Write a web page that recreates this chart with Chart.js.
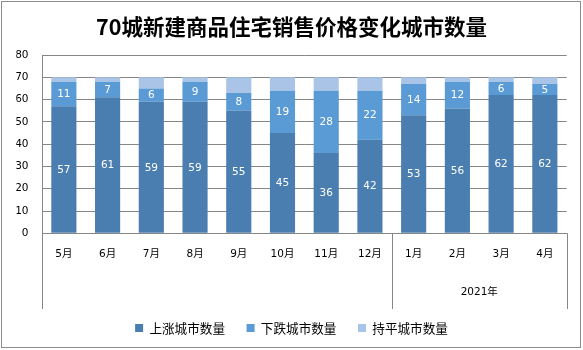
<!DOCTYPE html>
<html>
<head>
<meta charset="utf-8">
<title>70城新建商品住宅销售价格变化城市数量</title>
<script src="https://cdn.jsdelivr.net/npm/chart.js@4.4.1/dist/chart.umd.min.js"></script>
<style>
  html, body { margin: 0; padding: 0; background: #ffffff; }
  #wrap { width: 583px; height: 350px; }
</style>
</head>
<body>
<div id="wrap"><canvas id="c" width="583" height="350"></canvas></div>
<script>
// Months on the category axis
const months = ['5月', '6月', '7月', '8月', '9月', '10月', '11月', '12月', '1月', '2月', '3月', '4月'];
// Second-level grouping of the category axis (start index of each group)
const groupLabels = ['', '2021年'];
const groupStarts = [0, 8];

// Number of cities per month
const riseCounts = [57, 61, 59, 59, 55, 45, 36, 42, 53, 56, 62, 62];
const fallCounts = [11, 7, 6, 9, 8, 19, 28, 22, 14, 12, 6, 5];
const flatCounts = [2, 2, 5, 2, 7, 6, 6, 6, 3, 2, 2, 3];

const seriesNames = ['上涨城市数量', '下跌城市数量', '持平城市数量'];

const yTicks = [0, 10, 20, 30, 40, 50, 60, 70, 80];

const AXIS_GRAY = '#868686';
const AXIS_FONT = "'DejaVu Sans', 'Noto Sans CJK SC', sans-serif";
const CJK_FONT = "'Noto Sans CJK SC', 'DejaVu Sans', sans-serif";
const SIDE_PAD = 16.3;

// Value labels centred in the rise / fall segments
const segmentLabels = {
  id: 'segmentLabels',
  afterDatasetsDraw(chart) {
    const ctx = chart.ctx;
    ctx.save();
    ctx.fillStyle = '#ffffff';
    ctx.font = "10.5px " + AXIS_FONT;
    ctx.textAlign = 'center';
    ctx.textBaseline = 'middle';
    chart.data.datasets.forEach((ds, di) => {
      if (!ds.showValues) return;
      const meta = chart.getDatasetMeta(di);
      meta.data.forEach((bar, i) => {
        const v = ds.data[i];
        ctx.fillText(String(v), bar.x, (bar.y + bar.base) / 2 + 0.5);
      });
    });
    ctx.restore();
  }
};

// Group separators below the axis, the year label and the outer frame
const groupAxis = {
  id: 'groupAxis',
  afterDraw(chart) {
    const ctx = chart.ctx;
    const area = chart.chartArea;
    const xs = chart.scales.x;
    const half = (xs.getPixelForValue(1) - xs.getPixelForValue(0)) / 2;
    const lineBottom = 309;
    ctx.save();
    ctx.strokeStyle = AXIS_GRAY;
    ctx.lineWidth = 1;
    const edges = [area.left];
    groupStarts.forEach((s, gi) => {
      if (gi > 0) edges.push(xs.getPixelForValue(s) - half);
    });
    edges.push(area.right);
    edges.forEach(x => {
      const px = Math.round(x) + 0.5;
      ctx.beginPath();
      ctx.moveTo(px, area.bottom);
      ctx.lineTo(px, lineBottom);
      ctx.stroke();
    });
    ctx.fillStyle = '#000000';
    ctx.font = "10.5px " + AXIS_FONT;
    ctx.textAlign = 'center';
    ctx.textBaseline = 'middle';
    groupLabels.forEach((lab, gi) => {
      if (!lab) return;
      const x0 = edges[gi];
      const x1 = edges[gi + 1];
      ctx.fillText(lab, (x0 + x1) / 2, 292);
    });
    // outer frame
    ctx.strokeStyle = '#8c8c8c';
    ctx.strokeRect(1.5, 1.5, 579, 346);
    ctx.restore();
  }
};

new Chart(document.getElementById('c'), {
  type: 'bar',
  data: {
    labels: months,
    datasets: [
      { label: seriesNames[0], data: riseCounts, backgroundColor: '#4A7EB0', showValues: true },
      { label: seriesNames[1], data: fallCounts, backgroundColor: '#5B9BD5', showValues: true },
      { label: seriesNames[2], data: flatCounts, backgroundColor: '#A9C4E6', showValues: false }
    ]
  },
  options: {
    responsive: false,
    animation: false,
    devicePixelRatio: 1,
    layout: { padding: { left: SIDE_PAD, right: SIDE_PAD, top: 0, bottom: 5.7 } },
    datasets: {
      bar: { categoryPercentage: 1, barPercentage: 0.575, borderWidth: 0 }
    },
    scales: {
      x: {
        stacked: true,
        grid: { display: false, drawTicks: false },
        border: { display: true, color: AXIS_GRAY, width: 1 },
        ticks: { color: '#000000', font: { family: AXIS_FONT, size: 10.5 }, padding: 14.4, maxRotation: 0, autoSkip: false },
        afterFit(scale) { scale.height = 66.8; }
      },
      y: {
        stacked: true,
        min: 0,
        max: 80,
        afterBuildTicks(scale) { scale.ticks = yTicks.map(v => ({ value: v })); },
        grid: { color: AXIS_GRAY, lineWidth: 1, drawTicks: false },
        border: { display: true, color: AXIS_GRAY, width: 1 },
        ticks: { color: '#000000', font: { family: AXIS_FONT, size: 10.5 }, padding: 13.5 },
        afterFit(scale) { scale.width = 42 - SIDE_PAD; }
      }
    },
    plugins: {
      title: {
        display: true,
        text: '70城新建商品住宅销售价格变化城市数量',
        color: '#000000',
        font: { family: CJK_FONT, size: 21.5, weight: 'bold' },
        padding: { top: 13.8, bottom: 15.4 }
      },
      legend: {
        display: true,
        position: 'bottom',
        labels: {
          color: '#000000',
          font: { family: CJK_FONT, size: 12.6 },
          boxWidth: 8,
          boxHeight: 8,
          padding: 21.6
        }
      },
      tooltip: { enabled: false }
    }
  },
  plugins: [segmentLabels, groupAxis]
});
</script>
</body>
</html>
